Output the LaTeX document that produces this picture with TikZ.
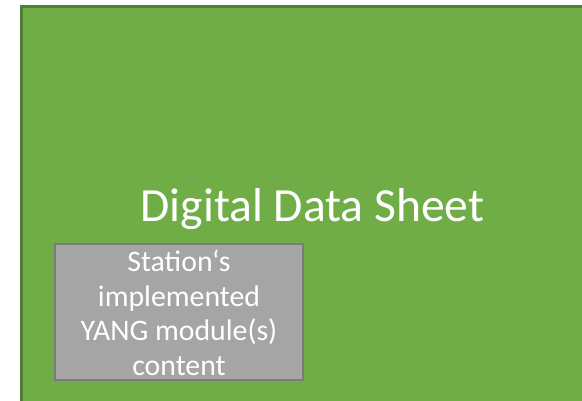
\documentclass[tikz,border=0pt]{standalone}
\usepackage{fontspec}
\setmainfont{Carlito}
\definecolor{dgreen}{HTML}{70AD47}
\definecolor{dgreenedge}{HTML}{507E32}
\definecolor{boxgray}{HTML}{A5A5A5}
\definecolor{boxedge}{HTML}{7B7B7B}
\begin{document}
\begin{tikzpicture}[x=1pt,y=-1pt,
  sheet/.style={fill=dgreen,draw=dgreenedge,line width=2.5pt},
  infobox/.style={fill=boxgray,draw=boxedge,line width=2pt},
  boxtext/.style={text=white,font=\fontsize{29.8}{34.5}\selectfont,align=center,inner sep=0pt},
  titletext/.style={text=white,font=\fontsize{47.6}{54}\selectfont,inner sep=0pt}]
\useasboundingbox (0,0) rectangle (582,400);
\begin{scope}
\clip (0,0) rectangle (582,400);
\draw[sheet] (21.5,6.5) rectangle (620,420);
\end{scope}
\node[titletext,anchor=base] (title) at (312.5,221) {Digital Data Sheet};
\draw[infobox] (55,244) rectangle (303,380);
\node[boxtext] (content) at (179,313) {Station‘s\\implemented\\YANG module(s)\\content};
\end{tikzpicture}
\end{document}
